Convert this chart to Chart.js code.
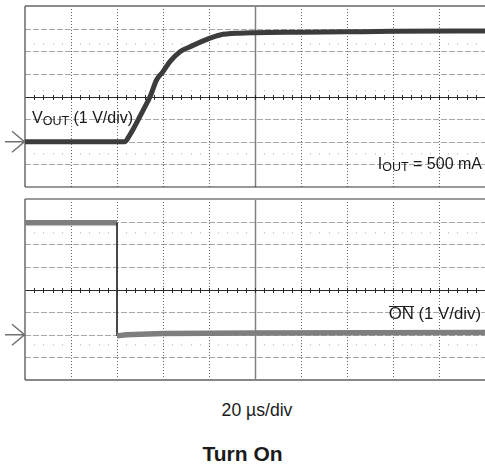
<!DOCTYPE html>
<html><head><meta charset="utf-8">
<script src="https://cdn.jsdelivr.net/npm/chart.js@4/dist/chart.umd.min.js"></script>
<style>
html,body{margin:0;padding:0;background:#fff;}
#wrap{position:relative;width:485px;height:465px;overflow:hidden;font-family:"Liberation Sans",Arial,Helvetica,sans-serif;color:#1a1a1a;}
canvas{position:absolute;left:0;}
.lbl{position:absolute;white-space:nowrap;font-size:16px;line-height:16px;}
.sub{font-size:12.5px;position:relative;top:2px;}
</style></head>
<body><div id="wrap">
<canvas id="c1" width="485" height="193" style="top:0"></canvas>
<canvas id="c2" width="485" height="194" style="top:193px"></canvas>
<div class="lbl" style="left:32px;top:110px;">V<span class="sub">OUT</span> (1 V/div)</div>
<div class="lbl" style="right:3px;top:156px;">I<span class="sub">OUT</span> = 500 mA</div>
<div class="lbl" style="right:4px;top:305px;font-size:16.8px;line-height:17px;"><span style="display:inline-block;border-top:1px solid #222;line-height:14px;">ON</span> (1 V/div)</div>
<div class="lbl" style="left:0;width:514px;text-align:center;top:401px;font-size:17.6px;line-height:18px;">20 µs/div</div>
<div class="lbl" style="left:0;width:485px;text-align:center;top:443px;font-size:21px;line-height:21px;font-weight:bold;">Turn On</div>
</div>
<script>
// Time axis in divisions (20 µs/div), 10 divisions
const xDivisions = [0,1,2,3,4,5,6,7,8,9,10];
const yDivisions = [-4,-3,-2,-1,0,1,2,3,4];
// VOUT trace (1 V/div), values in divisions from screen centre
const voutTime = [0, 2.17, 2.25, 2.57, 2.72, 2.86, 3.0, 3.15, 3.37, 3.59, 4.02, 4.24, 4.67, 5.0, 6.0, 7.0, 8.0, 10];
const voutLevel = [-2, -2, -1.8, -0.6, 0, 0.73, 1.1, 1.54, 1.98, 2.2, 2.58, 2.72, 2.8, 2.82, 2.84, 2.86, 2.88, 2.9];
// ON-bar trace (1 V/div)
const onTime = [0, 2.0, 2.0, 2.2, 3.0, 5.0, 10];
const onLevel = [2.95, 2.95, -2.05, -2.0, -1.95, -1.92, -1.9];
// ground reference markers (divisions)
const voutGround = -2;
const onGround = -2;
// faint dotted rows seen on the screen (divisions)
const voutDotRows = [2.35, 0.29, -2.51];
const onDotRows = [2.52, -2.42];

function scopePlugin(opts){
  return {
    id:'scope',
    beforeDatasetsDraw(chart){
      const {ctx, chartArea:a, scales:{x,y}} = chart;
      ctx.save();
      ctx.fillStyle='#c8c8c8';
      opts.dotRows.forEach(v=>{
        const py=Math.round(y.getPixelForValue(v));
        for(let t=0.2;t<10;t+=0.2){
          const px=Math.round(x.getPixelForValue(t));
          ctx.fillRect(px,py,1,1.5);
        }
      });
      ctx.strokeStyle='#a8a8a8';ctx.lineWidth=1;ctx.setLineDash([6,2]);
      yDivisions.forEach(v=>{
        if(v===0||v===-4||v===4) return;
        const py=Math.round(y.getPixelForValue(v))+0.5;
        ctx.beginPath();ctx.moveTo(a.left,py);ctx.lineTo(a.right,py);ctx.stroke();
      });
      ctx.strokeStyle='#666';ctx.setLineDash([1,2]);
      xDivisions.forEach(t=>{
        if(t===0||t===5||t===10) return;
        const px=Math.round(x.getPixelForValue(t))+0.5;
        ctx.beginPath();ctx.moveTo(px,a.top);ctx.lineTo(px,a.bottom);ctx.stroke();
      });
      ctx.setLineDash([]);
      ctx.strokeStyle='#808080';ctx.lineWidth=1.5;
      let cx=x.getPixelForValue(5)+0.5;
      ctx.beginPath();ctx.moveTo(cx,a.top);ctx.lineTo(cx,a.bottom);ctx.stroke();
      ctx.strokeStyle='#2a2a2a';ctx.lineWidth=1;
      let cy=Math.round(y.getPixelForValue(0))+0.5;
      ctx.beginPath();ctx.moveTo(a.left,cy);ctx.lineTo(a.right,cy);ctx.stroke();
      for(let t=0.2;t<10;t+=0.2){
        const px=Math.round(x.getPixelForValue(t))+0.5;
        ctx.beginPath();ctx.moveTo(px,cy-2.5);ctx.lineTo(px,cy+2.5);ctx.stroke();
      }
      ctx.lineWidth=opts.topW;ctx.strokeStyle=opts.topC;
      ctx.beginPath();ctx.moveTo(a.left,a.top);ctx.lineTo(a.right,a.top);ctx.stroke();
      ctx.lineWidth=opts.botW;ctx.strokeStyle=opts.botC;
      ctx.beginPath();ctx.moveTo(a.left,a.bottom);ctx.lineTo(a.right,a.bottom);ctx.stroke();
      ctx.lineWidth=1.5;ctx.strokeStyle='#6a6a6a';
      ctx.beginPath();ctx.moveTo(a.left,a.top);ctx.lineTo(a.left,a.bottom);ctx.stroke();
      ctx.restore();
    },
    afterDraw(chart){
      const {ctx, chartArea:a, scales:{y}} = chart;
      const py=y.getPixelForValue(opts.ground);
      ctx.save();
      ctx.strokeStyle='#707070';ctx.lineWidth=1.5;
      ctx.beginPath();
      ctx.moveTo(5,py);ctx.lineTo(a.left-0.5,py);
      ctx.moveTo(12,py-10.5);ctx.lineTo(a.left-0.5,py);ctx.lineTo(12,py+10.5);
      ctx.stroke();
      ctx.restore();
    }
  };
}

function makeChart(id, tArr, vArr, color, width, pad, opts, smooth){
  const pts = tArr.map((t,i)=>({x:t,y:vArr[i]}));
  return new Chart(document.getElementById(id),{
    type:'line',
    data:{datasets:[{data:pts,borderColor:color,borderWidth:width,pointRadius:0,
      tension:0, cubicInterpolationMode: smooth?'monotone':'default',
      borderJoinStyle:'round',borderCapStyle:'butt',
      segment:{
        borderWidth:c=>c.p0.parsed.x===c.p1.parsed.x?1:width,
        borderColor:c=>c.p0.parsed.x===c.p1.parsed.x?'#333':color
      }}]},
    options:{
      responsive:false,animation:false,devicePixelRatio:1,
      layout:{padding:pad},
      plugins:{legend:{display:false},tooltip:{enabled:false}},
      scales:{
        x:{type:'linear',min:0,max:10,display:false},
        y:{type:'linear',min:-4,max:4,display:false}
      }
    },
    plugins:[scopePlugin(opts)]
  });
}

makeChart('c1', voutTime, voutLevel, '#3c3c3c', 5, {left:25,top:6,right:0,bottom:6},
  {dotRows:voutDotRows, ground:voutGround, topW:2, topC:'#8c8c8c', botW:1, botC:'#333'}, true);
makeChart('c2', onTime, onLevel, '#7e7e7e', 5.5, {left:25,top:6,right:0,bottom:7},
  {dotRows:onDotRows, ground:onGround, topW:2, topC:'#9a9a9a', botW:2, botC:'#888'}, false);
</script>
</body></html>
